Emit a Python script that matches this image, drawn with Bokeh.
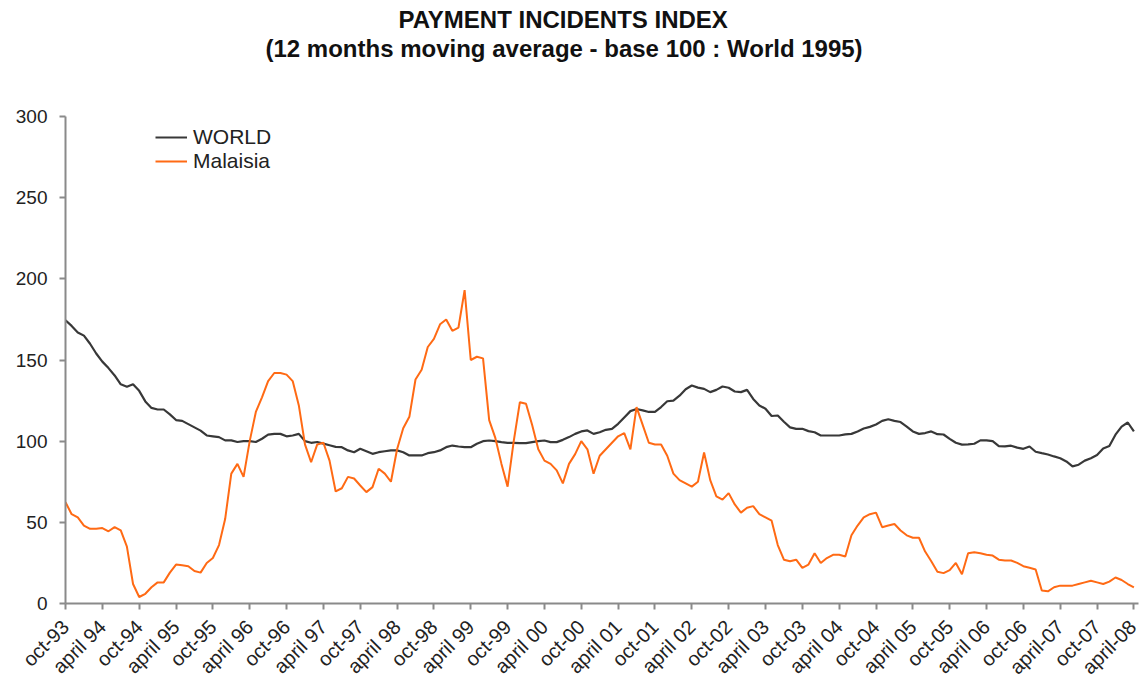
import math
from bokeh.plotting import figure
from bokeh.models import Title, FixedTicker, Legend, LegendItem
from bokeh.embed import file_html
from bokeh.resources import INLINE

# ---- data (monthly, oct-93 .. apr-08) ----
tick_labels = ["oct-93", "april 94", "oct-94", "april 95", "oct-95", "april 96",
               "oct-96", "april 97", "oct-97", "april 98", "oct-98", "april 99",
               "oct-99", "april 00", "oct-00", "april 01", "oct-01", "april 02",
               "oct-02", "april 03", "oct-03", "april 04", "oct-04", "april 05",
               "oct-05", "april 06", "oct-06", "april-07", "oct-07", "april-08"]

world = [174.5, 171, 167, 165, 160, 154, 149, 145, 140.5, 135,
         133.5, 135, 131, 124.5, 120.5, 119.5, 119.5, 116.5, 113, 112.5,
         110.5, 108.5, 106.5, 103.5, 103, 102.5, 100.5, 100.5, 99.5, 100,
         100, 99.5, 101.5, 104, 104.5, 104.5, 103, 103.5, 104.5, 100,
         99, 99.5, 98.5, 97.5, 96.5, 96.3, 94.3, 93.2, 95.3, 93.8,
         92.2, 93.2, 93.8, 94.3, 94.3, 93.2, 91.2, 91.2, 91.2, 92.6,
         93.2, 94.3, 96.3, 97.3, 96.7, 96.3, 96.3, 98.4, 100, 100.4,
         100, 99.4, 99, 99, 98.8, 98.8, 99.4, 100, 100.4, 99.4,
         99.4, 100.8, 102.5, 104.5, 106, 106.6, 104.5, 105.5, 107, 107.6,
         110.7, 114.6, 118.5, 119.8, 119, 118, 118, 121, 124.6, 125,
         128, 132, 134.3, 133, 132.2, 130.2, 131.6, 133.7, 132.9, 130.6,
         130.2, 131.6, 126, 122, 120, 115.5, 115.8, 112, 108.5, 107.6,
         107.6, 106.2, 105.5, 103.5, 103.5, 103.5, 103.5, 104.2, 104.5, 106,
         107.8, 108.8, 110.3, 112.5, 113.5, 112.5, 111.8, 109, 106, 104.5,
         105, 106, 104.3, 104.1, 101.4, 99, 97.9, 98, 98.4, 100.5,
         100.5, 100, 97, 96.8, 97.2, 96, 95.3, 96.7, 93.5, 92.6,
         91.8, 90.6, 89.5, 87.5, 84.5, 85.5, 88, 89.5, 91.5, 95.5,
         97, 104, 109, 111.5, 106]

malaysia = [62.4, 55, 53, 48, 46, 46, 46.5, 44.5, 47, 45,
            35, 12, 4, 6, 10, 13, 13, 19, 24, 23.5,
            23, 20, 19, 25, 28, 36, 52, 80, 86, 78,
            100, 118, 127, 137, 142, 142, 141, 137, 122, 98,
            87, 98, 99, 88, 69, 71, 78, 77, 72.7, 68.6,
            71.7, 83, 80, 75, 95, 108, 115, 138, 144, 158,
            163, 172, 175, 168, 170, 193, 150, 152, 151, 113,
            102, 86, 72, 100, 124, 123, 110, 95, 88, 86,
            82, 74, 86, 92, 100, 95, 80, 91, 95, 99,
            103, 105, 95, 121, 110, 99, 98, 98, 91, 80,
            76, 74, 72, 75, 93, 76, 66, 64, 68, 61,
            56, 59, 60, 55, 53, 51, 36, 27, 26, 27,
            22, 24, 31, 25, 28, 30, 30, 29, 42, 48,
            53, 55, 56, 47, 48, 49, 45, 42, 40.5, 40.5,
            32, 26, 19.5, 18.7, 20.5, 25, 18, 31, 31.6, 31,
            30, 29.5, 27, 26.5, 26.5, 25, 23, 22, 21, 8,
            7.5, 10, 11, 11, 11, 12, 13, 14, 13, 12,
            13.5, 16, 14.5, 12, 10]

months = list(range(len(world)))

FONT = "Liberation Sans"
AXIS_GREY = "#8a8a8a"
TEXT = "#222222"

p = figure(width=1140, height=690, x_range=(0, 174.75), y_range=(0, 300),
           output_backend="svg", toolbar_location=None, title=None,
           min_border_left=65, min_border_right=2, min_border_top=116,
           min_border_bottom=87)
p.outline_line_color = None
p.xgrid.grid_line_color = None
p.ygrid.grid_line_color = None
p.background_fill_color = "white"
p.border_fill_color = "white"

r_world = p.line(months, world, line_color="#383838", line_width=2.2)
r_mal = p.line(months, malaysia, line_color="#ff6a14", line_width=2)

# axes
ticks = [6 * i for i in range(len(tick_labels))]
p.xaxis.ticker = FixedTicker(ticks=ticks)
p.xaxis.major_label_overrides = {t: lab for t, lab in zip(ticks, tick_labels)}
p.xaxis.major_label_orientation = math.pi / 4
p.xaxis.minor_tick_line_color = None
p.yaxis.ticker = FixedTicker(ticks=[0, 50, 100, 150, 200, 250, 300])
p.yaxis.minor_tick_line_color = None
for ax in (p.xaxis, p.yaxis):
    ax.axis_line_color = AXIS_GREY
    ax.axis_line_width = 2
    ax.major_tick_line_color = AXIS_GREY
    ax.major_tick_line_width = 2
    ax.major_tick_in = 0
    ax.major_tick_out = 6
    ax.major_label_text_font = FONT
    ax.major_label_text_color = TEXT
p.xaxis.major_label_text_font_size = "20px"
p.xaxis.major_label_standoff = 14
p.yaxis.major_label_text_font_size = "19px"
p.yaxis.major_label_standoff = 12

# legend
legend = Legend(items=[LegendItem(label="WORLD", renderers=[r_world]),
                       LegendItem(label="Malaisia", renderers=[r_mal])],
                location=(90, 430), padding=0, margin=0, spacing=0,
                glyph_width=32, glyph_height=24, label_height=24,
                label_standoff=6, label_text_font=FONT,
                label_text_font_size="21px", label_text_color=TEXT,
                border_line_color=None, background_fill_alpha=0)
p.add_layout(legend)

# titles: spacer next to the frame, then subtitle, then main title on top
p.add_layout(Title(text=" ", text_font_size="1px", standoff=50), "above")
p.add_layout(Title(text="(12 months moving average - base 100 : World 1995)",
                   text_font=FONT, text_font_size="24px", text_font_style="bold",
                   text_color="#111111", align="left", offset=200,
                   vertical_align="top", standoff=0), "above")
p.add_layout(Title(text="PAYMENT INCIDENTS INDEX",
                   text_font=FONT, text_font_size="24px", text_font_style="bold",
                   text_color="#111111", align="left", offset=333,
                   standoff=4), "above")

open("out.html", "w").write(file_html(p, INLINE))
